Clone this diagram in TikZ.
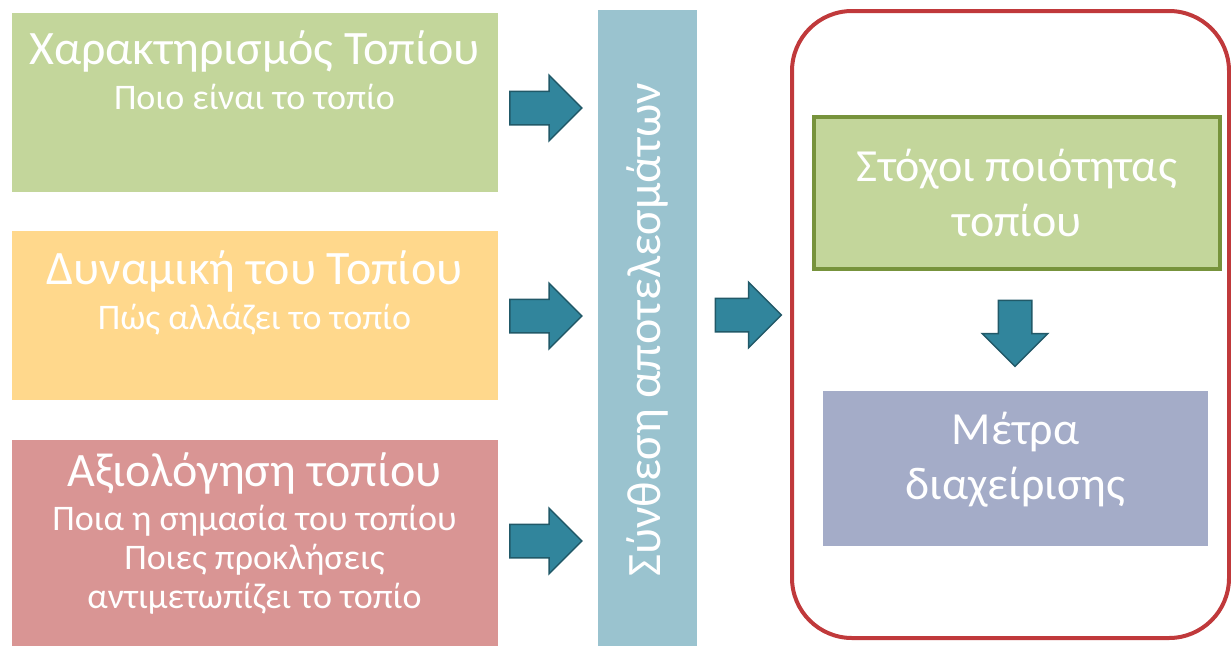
\documentclass[tikz,border=0pt]{standalone}
\usepackage{fontspec}
\setmainfont{Carlito}
\usetikzlibrary{positioning,shapes.arrows}

\definecolor{boxgreen}{HTML}{C3D69B}
\definecolor{boxgreenline}{HTML}{77933C}
\definecolor{boxyellow}{HTML}{FFD88C}
\definecolor{boxred}{HTML}{D99594}
\definecolor{boxblue}{HTML}{9AC3CF}
\definecolor{boxpurple}{HTML}{A4ACC8}
\definecolor{framered}{HTML}{C0393B}
\definecolor{arrfill}{HTML}{31859C}
\definecolor{arrline}{HTML}{215968}

\begin{document}
\begin{tikzpicture}
  [x=1pt,y=-1pt,
   every node/.style={inner sep=0pt,outer sep=0pt},
   box/.style={anchor=north west,minimum width=486pt},
   ttl/.style={anchor=base,text=white,font=\fontsize{48}{55}\selectfont},
   sub/.style={anchor=base,text=white,align=center,font=\fontsize{36}{39}\selectfont},
   big/.style={text=white,align=center,font=\fontsize{46}{55}\selectfont},
   arr/.style={single arrow,fill=arrfill,draw=arrline,line width=1.5pt,
     single arrow head extend=16pt,inner ysep=16pt,minimum height=72pt}]

  \useasboundingbox (0,0) rectangle (1231,645);
  \clip (0,0) rectangle (1231,645);

  % left column
  \node [box,fill=boxgreen,minimum height=179pt] (char) at (12,13) {};
  \node [box,fill=boxyellow,minimum height=169pt] (dyn) at (12,231) {};
  \node [box,fill=boxred,minimum height=220pt] (eval) at (12,440) {};

  \node [ttl] (chart) at (254.5,64) {Χαρακτηρισμός Τοπίου};
  \node [sub] (chars) at (254.5,109) {Ποιο είναι το τοπίο};
  \node [ttl] (dynt) at (254.5,284) {Δυναμική του Τοπίου};
  \node [sub] (dyns) at (254.5,329) {Πώς αλλάζει το τοπίο};
  \node [ttl] (evalt) at (254.5,486) {Αξιολόγηση τοπίου};
  % base of a multi-line node is its last line
  \node [sub] (evals) at (254.5,608) {Ποια η σημασία του τοπίου\\Ποιες προκλήσεις\\αντιμετωπίζει το τοπίο};

  % synthesis bar
  \node [anchor=north west,fill=boxblue,minimum width=99pt,minimum height=640pt] (synth) at (598,10) {};
  \node [rotate=90,text=white,font=\fontsize{48}{55}\selectfont] (syntht) at (647.5,330) {Σύνθεση αποτελεσμάτων};

  % arrows
  \node [arr] (a1) at (537.5,108) {};
  \node [arr] (a2) at (537.5,316) {};
  \node [arr] (a3) at (537.5,541) {};
  \node [arr,minimum height=66pt] (a4) at (740,315) {};

  % right part
  \draw [framered,line width=4pt,rounded corners=60pt] (792,11) rectangle (1229,638);
  \node [big,fill=boxgreen,draw=boxgreenline,line width=4pt,minimum width=406pt,minimum height=152pt] (goals) at (1017,193) {Στόχοι ποιότητας\\τοπίου};
  \node [arr,rotate=-90,minimum height=66pt] (a5) at (1015,325) {};
  \node [big,fill=boxpurple,minimum width=385pt,minimum height=155pt,text depth=26pt] (meas) at (1015.5,468.5) {Μέτρα\\διαχείρισης};
\end{tikzpicture}
\end{document}
